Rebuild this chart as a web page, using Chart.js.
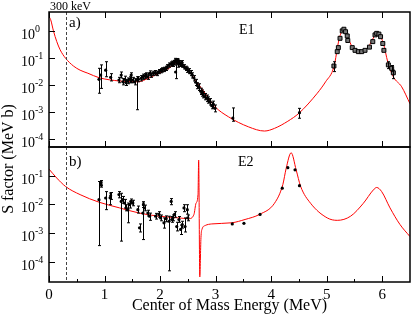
<!DOCTYPE html>
<html>
<head>
<meta charset="utf-8">
<script src="https://cdn.jsdelivr.net/npm/chart.js@4.4.1/dist/chart.umd.min.js"></script>
<style>
  html, body { margin: 0; padding: 0; background: #fff; }
</style>
</head>
<body>
<canvas id="sChart" width="415" height="317"></canvas>
<script>
// panel a) E1 fit
const e1CurveX = [0.0, 0.03, 0.08, 0.14, 0.2, 0.3, 0.44, 0.56, 0.7, 0.9, 1.27, 1.6, 1.8, 1.98, 2.16, 2.31, 2.46, 2.64, 2.81, 2.99, 3.23, 3.59, 3.88, 4.06, 4.3, 4.5, 4.83, 4.98, 5.13, 5.22, 5.26, 5.30, 5.34, 5.40, 5.49, 5.60, 5.75, 5.85, 5.90, 5.95, 6.02, 6.1, 6.2, 6.35, 6.5];
const e1CurveY = [3.4, 2.6, 1.0, 0.4, 0.2, 0.096, 0.05, 0.035, 0.027, 0.0185, 0.0139, 0.013, 0.018, 0.027, 0.041, 0.066, 0.047, 0.0148, 0.0049, 0.00155, 0.00066, 0.00028, 0.000195, 0.000245, 0.00045, 0.00089, 0.0049, 0.013, 0.047, 0.46, 0.85, 1.15, 0.85, 0.46, 0.195, 0.148, 0.257, 0.6, 0.85, 0.7, 0.35, 0.07, 0.02, 0.0085, 0.002];

// panel a) data, dots
const e1X  = [0.90, 0.93, 1.02, 1.11, 1.26, 1.30, 1.33, 1.36, 1.39, 1.42, 1.45, 1.48, 1.51, 1.54, 1.58, 1.61, 1.66, 1.69, 1.72, 1.75, 1.78, 1.81, 1.84, 1.88, 1.91, 1.95, 1.98, 2.01, 2.04, 2.07, 2.10, 2.13, 2.16, 2.19, 2.22, 2.24, 2.25, 2.27, 2.28, 2.28, 2.30, 2.31, 2.33, 2.34, 2.36, 2.37, 2.39, 2.40, 2.43, 2.46, 2.49, 2.52, 2.55, 2.58, 2.61, 2.64, 2.67, 2.70, 2.73, 2.75, 2.78, 2.81, 2.84, 2.87, 2.90, 2.93, 2.96, 2.99, 3.31, 4.51];
const e1Y  = [0.016, 0.023, 0.035, 0.019, 0.015, 0.023, 0.013, 0.016, 0.012, 0.014, 0.016, 0.023, 0.015, 0.013, 0.015, 0.016, 0.0175, 0.020, 0.021, 0.023, 0.020, 0.027, 0.023, 0.027, 0.028, 0.027, 0.031, 0.034, 0.036, 0.038, 0.041, 0.047, 0.054, 0.059, 0.063, 0.058, 0.067, 0.080, 0.072, 0.030, 0.070, 0.079, 0.075, 0.067, 0.058, 0.063, 0.066, 0.054, 0.047, 0.041, 0.037, 0.033, 0.028, 0.023, 0.018, 0.0125, 0.0095, 0.0082, 0.0058, 0.0050, 0.0043, 0.0037, 0.0032, 0.0028, 0.0024, 0.0017, 0.0019, 0.00135, 0.00059, 0.00093];
const e1Lo = [0.0049, 0.0074, 0.020, 0.014, 0.012, 0.018, 0.010, 0.012, 0.0095, 0.011, 0.012, 0.012, 0.012, 0.010, 0.0012, 0.013, 0.014, 0.016, 0.017, 0.019, 0.016, 0.022, 0.019, 0.022, 0.023, 0.022, 0.026, 0.028, 0.030, 0.031, 0.034, 0.039, 0.045, 0.049, 0.052, 0.048, 0.055, 0.066, 0.060, 0.017, 0.058, 0.065, 0.045, 0.055, 0.048, 0.052, 0.054, 0.045, 0.039, 0.034, 0.029, 0.026, 0.022, 0.018, 0.014, 0.0095, 0.0072, 0.0062, 0.0044, 0.0038, 0.0033, 0.0028, 0.0024, 0.0021, 0.0018, 0.0013, 0.0014, 0.0010, 0.00045, 0.00058];
const e1Hi = [0.041, 0.055, 0.072, 0.026, 0.019, 0.030, 0.017, 0.021, 0.016, 0.018, 0.020, 0.028, 0.019, 0.017, 0.020, 0.020, 0.022, 0.025, 0.026, 0.028, 0.025, 0.033, 0.028, 0.032, 0.034, 0.032, 0.037, 0.040, 0.043, 0.045, 0.049, 0.056, 0.065, 0.071, 0.076, 0.070, 0.080, 0.096, 0.087, 0.055, 0.084, 0.095, 0.090, 0.080, 0.070, 0.076, 0.079, 0.065, 0.056, 0.049, 0.045, 0.040, 0.034, 0.028, 0.022, 0.016, 0.012, 0.011, 0.0075, 0.0065, 0.0056, 0.0048, 0.0042, 0.0036, 0.0031, 0.0022, 0.0025, 0.0018, 0.0014, 0.00135];

// panel a) data, squares
const sqX  = [5.13, 5.19, 5.21, 5.24, 5.28, 5.31, 5.34, 5.37, 5.38, 5.46, 5.51, 5.57, 5.63, 5.69, 5.77, 5.83, 5.87, 5.90, 5.94, 5.97, 6.01, 6.03, 6.11, 6.17, 6.20];
const sqY  = [0.050, 0.17, 0.24, 0.53, 1.0, 1.15, 0.93, 0.65, 0.44, 0.24, 0.19, 0.17, 0.17, 0.19, 0.25, 0.40, 0.71, 0.81, 0.76, 0.61, 0.34, 0.19, 0.055, 0.041, 0.028];
const sqLo = [0.031, null, null, null, null, null, null, null, null, null, null, null, null, null, null, null, null, null, null, null, null, null, 0.040, 0.032, 0.017];
const sqHi = [0.072, null, null, null, null, null, null, null, null, null, null, null, null, null, null, null, null, null, null, null, null, null, 0.072, 0.052, 0.035];

// panel b) E2 fit
const e2CurveX = [0.0, 0.14, 0.3, 0.56, 0.9, 1.27, 1.63, 1.98, 2.34, 2.52, 2.61, 2.647, 2.683, 2.695, 2.715, 2.736, 2.754, 2.815, 2.93, 3.29, 3.53, 3.79, 4.06, 4.21, 4.27, 4.36, 4.45, 4.53, 4.71, 5.01, 5.19, 5.43, 5.66, 5.84, 5.90, 5.99, 6.14, 6.32, 6.5];
const e2CurveY = [0.17, 0.083, 0.042, 0.022, 0.012, 0.0076, 0.005, 0.0039, 0.0034, 0.0032, 0.0045, 0.011, 0.022, 0.35, 0.00003, 0.0007, 0.00135, 0.00186, 0.0021, 0.0023, 0.003, 0.0045, 0.011, 0.049, 0.18, 0.63, 0.16, 0.043, 0.011, 0.0034, 0.0028, 0.0039, 0.011, 0.032, 0.039, 0.028, 0.0076, 0.002, 0.00076];

// panel b) data
const e2X  = [0.90, 0.93, 0.94, 1.02, 1.10, 1.11, 1.26, 1.30, 1.33, 1.36, 1.39, 1.42, 1.45, 1.48, 1.51, 1.60, 1.63, 1.69, 1.70, 1.72, 1.78, 1.81, 1.92, 1.98, 2.01, 2.07, 2.11, 2.16, 2.20, 2.21, 2.23, 2.26, 2.30, 2.34, 2.37, 2.40, 2.43, 2.45, 2.49, 2.50, 3.30, 3.51, 3.80, 4.20, 4.30, 4.43, 4.51];
const e2Y  = [0.0147, 0.055, 0.048, 0.0168, 0.017, 0.020, 0.022, 0.0128, 0.0147, 0.0112, 0.0076, 0.0066, 0.0098, 0.0128, 0.0112, 0.0066, 0.00154, 0.0050, 0.0098, 0.0076, 0.0050, 0.0039, 0.0039, 0.0045, 0.0034, 0.0023, 0.0032, 0.0026, 0.0128, 0.0030, 0.0034, 0.0045, 0.0017, 0.0030, 0.00135, 0.0020, 0.0076, 0.0017, 0.0066, 0.0034, 0.0021, 0.0022, 0.0045, 0.037, 0.19, 0.16, 0.045];
const e2Lo = [0.00037, 0.045, 0.040, 0.0066, 0.0098, 0.015, 0.017, 0.00053, 0.011, 0.0075, 0.006, 0.0023, 0.0075, 0.0105, 0.009, 0.005, 0.0011, 0.0006, 0.0078, 0.006, 0.004, 0.0028, 0.0031, 0.0036, 0.0027, 0.0015, 0.0025, 0.000049, 0.0098, 0.0024, 0.0027, 0.0036, 0.0012, 0.0024, 0.0009, 0.0015, 0.0056, 0.0011, 0.0046, 0.0027, null, null, null, null, null, null, null];
const e2Hi = [0.063, 0.068, 0.060, 0.028, 0.025, 0.026, 0.028, 0.0245, 0.019, 0.015, 0.0098, 0.0112, 0.013, 0.0155, 0.014, 0.0088, 0.0021, 0.0112, 0.0125, 0.0095, 0.0063, 0.005, 0.0049, 0.0056, 0.0043, 0.0034, 0.004, 0.0039, 0.016, 0.0038, 0.0043, 0.0056, 0.0024, 0.0038, 0.0019, 0.0026, 0.0098, 0.0034, 0.0098, 0.0043, null, null, null, null, null, null, null];

// axis ticks
const xMajor = [0, 1, 2, 3, 4, 5, 6];
const xMinor = [0.5, 1.5, 2.5, 3.5, 4.5, 5.5];
const topExps = [0, -1, -2, -3, -4];
const botExps = [-1, -2, -3, -4];
const thresholdE = 0.3;

const serif = 'Liberation Serif';

function pts(xs, ys) {
  return xs.map((x, i) => ({ x: x, y: ys[i] }));
}

const errorBars = {
  id: 'errorBars',
  afterDatasetsDraw(chart) {
    const ctx = chart.ctx;
    const xs = chart.scales.x;
    chart.data.datasets.forEach((ds) => {
      if (!ds.lo) return;
      const ys = chart.scales[ds.yAxisID];
      ctx.save();
      ctx.beginPath();
      ctx.rect(xs.left, ys.top, xs.right - xs.left, ys.bottom - ys.top);
      ctx.clip();
      ctx.strokeStyle = '#000';
      ctx.lineWidth = 1;
      ctx.beginPath();
      ds.data.forEach((p, i) => {
        if (ds.lo[i] == null) return;
        const px = Math.round(xs.getPixelForValue(p.x)) + 0.5;
        const y1 = ys.getPixelForValue(ds.lo[i]);
        const y2 = ys.getPixelForValue(ds.hi[i]);
        ctx.moveTo(px, y1); ctx.lineTo(px, y2);
        ctx.moveTo(px - 1.5, y1); ctx.lineTo(px + 1.5, y1);
        ctx.moveTo(px - 1.5, y2); ctx.lineTo(px + 1.5, y2);
      });
      ctx.stroke();
      ctx.restore();
    });
  }
};

const frame = {
  id: 'frame',
  afterDraw(chart) {
    const ctx = chart.ctx;
    const xs = chart.scales.x, yt = chart.scales.yTop, yb = chart.scales.yBot;
    const L = xs.left, R = xs.right;
    ctx.save();

    // dashed line at 300 keV
    const dx = Math.round(xs.getPixelForValue(thresholdE)) + 0.5;
    ctx.strokeStyle = '#444';
    ctx.lineWidth = 1;
    ctx.setLineDash([3, 2]);
    ctx.beginPath();
    ctx.moveTo(dx, yt.top); ctx.lineTo(dx, yb.bottom);
    ctx.stroke();
    ctx.setLineDash([]);

    // frames
    ctx.strokeStyle = '#000';
    ctx.lineWidth = 1.5;
    [yt, yb].forEach((s) => ctx.strokeRect(L, s.top, R - L, s.bottom - s.top));

    // ticks, pointing inwards
    ctx.lineWidth = 1;
    ctx.beginPath();
    xMajor.forEach((v) => {
      const px = Math.round(xs.getPixelForValue(v)) + 0.5;
      ctx.moveTo(px, yt.top); ctx.lineTo(px, yt.top + 6);
      ctx.moveTo(px, yt.bottom); ctx.lineTo(px, yt.bottom - 6);
      ctx.moveTo(px, yb.bottom); ctx.lineTo(px, yb.bottom - 6);
    });
    xMinor.forEach((v) => {
      const px = Math.round(xs.getPixelForValue(v)) + 0.5;
      ctx.moveTo(px, yb.bottom); ctx.lineTo(px, yb.bottom - 3);
    });
    topExps.forEach((e) => {
      const py = Math.round(yt.getPixelForValue(Math.pow(10, e))) + 0.5;
      ctx.moveTo(L, py); ctx.lineTo(L + 6, py);
    });
    botExps.forEach((e) => {
      const py = Math.round(yb.getPixelForValue(Math.pow(10, e))) + 0.5;
      ctx.moveTo(L, py); ctx.lineTo(L + 6, py);
    });
    ctx.stroke();

    // y tick labels 10^n
    ctx.fillStyle = '#000';
    ctx.textAlign = 'left';
    ctx.textBaseline = 'alphabetic';
    const label = (s, e) => {
      const py = s.getPixelForValue(Math.pow(10, e));
      ctx.font = '14px "' + serif + '"';
      ctx.fillText('10', 21, py + 8);
      const w = ctx.measureText('10').width;
      ctx.font = '10px "' + serif + '"';
      ctx.fillText(String(e), 21 + w, py + 1);
    };
    topExps.forEach((e) => label(yt, e));
    botExps.forEach((e) => label(yb, e));

    // annotations
    ctx.font = '12px "' + serif + '"';
    ctx.textAlign = 'center';
    ctx.fillText('300 keV', dx + 4, 9.5);
    ctx.textAlign = 'left';
    ctx.font = '15px "' + serif + '"';
    ctx.fillText('a)', 69, 27);
    ctx.fillText('b)', 69, 166);
    ctx.font = '14px "' + serif + '"';
    ctx.fillText('E1', 239, 34);
    ctx.fillText('E2', 238, 166);

    // y title
    ctx.translate(9, 159);
    ctx.rotate(-Math.PI / 2);
    ctx.textAlign = 'center';
    ctx.textBaseline = 'middle';
    ctx.font = '16px "' + serif + '"';
    ctx.fillText('S factor (MeV b)', 0, 0);
    ctx.restore();
  }
};

const dotStyle = { showLine: false, pointRadius: 1.6, pointBackgroundColor: '#000', pointBorderWidth: 0 };
const fitStyle = { showLine: true, borderColor: '#ff0000', borderWidth: 1, pointRadius: 0, cubicInterpolationMode: 'monotone' };

new Chart(document.getElementById('sChart'), {
  type: 'scatter',
  data: {
    datasets: [
      Object.assign({ label: 'E1 data', data: pts(e1X, e1Y), lo: e1Lo, hi: e1Hi, yAxisID: 'yTop' }, dotStyle),
      { label: 'E1 data (sq)', data: pts(sqX, sqY), lo: sqLo, hi: sqHi, yAxisID: 'yTop', showLine: false,
        pointStyle: 'rect', pointRadius: 2.8, pointBackgroundColor: '#777', pointBorderColor: '#000', pointBorderWidth: 1 },
      Object.assign({ label: 'E2 data', data: pts(e2X, e2Y), lo: e2Lo, hi: e2Hi, yAxisID: 'yBot' }, dotStyle),
      Object.assign({ label: 'E1 fit', data: pts(e1CurveX, e1CurveY), yAxisID: 'yTop' }, fitStyle),
      Object.assign({ label: 'E2 fit', data: pts(e2CurveX, e2CurveY), yAxisID: 'yBot' }, fitStyle)
    ]
  },
  options: {
    responsive: false,
    animation: false,
    devicePixelRatio: 1,
    events: [],
    layout: { padding: { top: 12, right: 1, left: 0, bottom: 0 } },
    plugins: { legend: { display: false }, tooltip: { enabled: false } },
    scales: {
      x: {
        type: 'linear', min: 0, max: 6.5,
        grid: { display: false }, border: { display: false },
        ticks: { stepSize: 1, includeBounds: false, maxRotation: 0, color: '#000', padding: -4,
                 font: { family: serif, size: 15 } },
        title: { display: true, text: 'Center of Mass Energy (MeV)', color: '#000',
                 font: { family: serif, size: 16 }, padding: { top: 0, bottom: 2 } },
        afterFit(s) { s.height = 35; }
      },
      yBot: {
        type: 'logarithmic', position: 'left', stack: 'panels', stackWeight: 1,
        min: 2e-5, max: 1,
        grid: { display: false }, border: { display: false }, ticks: { display: false },
        afterFit(s) { s.width = 49; }
      },
      yTop: {
        type: 'logarithmic', position: 'left', stack: 'panels', stackWeight: 1,
        min: 5e-5, max: 5,
        grid: { display: false }, border: { display: false }, ticks: { display: false },
        afterFit(s) { s.width = 49; }
      }
    }
  },
  plugins: [errorBars, frame]
});
</script>
</body>
</html>
